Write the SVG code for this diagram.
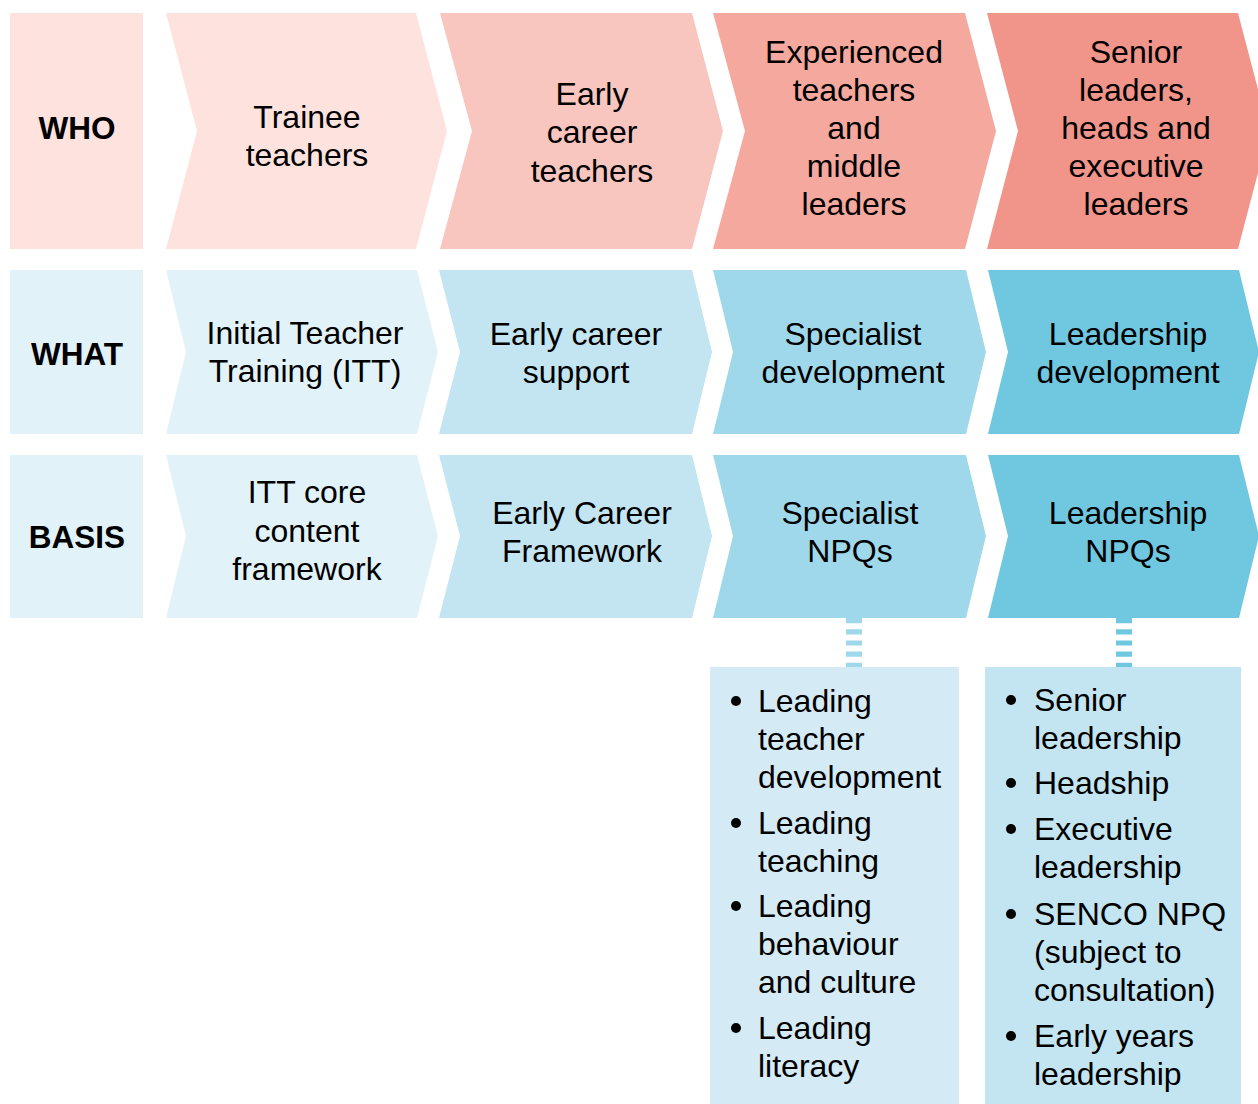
<svg xmlns="http://www.w3.org/2000/svg" width="1258" height="1104" viewBox="0 0 1258 1104">
<style>
text{font-family:"Liberation Sans",Arial,sans-serif;font-size:32px;fill:#000;}
.c{text-anchor:middle;}
.b{font-weight:bold;font-size:31.5px;}
.r1a{fill:#FDE2DE}.r1b{fill:#F8C5BF}.r1c{fill:#F5A89D}.r1d{fill:#F1948A}
.ba{fill:#E1F2F9}.bb{fill:#C3E5F1}.bc{fill:#9FD8EA}.bd{fill:#6FC8E0}
.dash{fill:none;stroke-width:16;stroke-dasharray:5.2 6}
</style>
<rect width="1258" height="1104" fill="#fff"/>

<g id="who-label"><rect class="r1a" x="10" y="13" width="133" height="236"/><text class="c b" x="77" y="139">WHO</text></g>
<g id="who-trainee"><polygon class="r1a" points="166,13 416,13 447,131 416,249 166,249 197,131"/>
<text class="c" x="307" y="128">Trainee</text><text class="c" x="307" y="166">teachers</text></g>
<g id="who-early"><polygon class="r1b" points="440,13 692,13 723,131 692,249 440,249 472,131"/>
<text class="c" x="592" y="105">Early</text><text class="c" x="592" y="143">career</text><text class="c" x="592" y="182">teachers</text></g>
<g id="who-experienced"><polygon class="r1c" points="713,13 965,13 996,131 965,249 713,249 745,131"/>
<text class="c" x="854" y="63">Experienced</text><text class="c" x="854" y="101">teachers</text><text class="c" x="854" y="139">and</text><text class="c" x="854" y="177">middle</text><text class="c" x="854" y="215">leaders</text></g>
<g id="who-senior"><polygon class="r1d" points="987,13 1238,13 1269,131 1238,249 987,249 1018,131"/>
<text class="c" x="1136" y="63">Senior</text><text class="c" x="1136" y="101">leaders,</text><text class="c" x="1136" y="139">heads and</text><text class="c" x="1136" y="177">executive</text><text class="c" x="1136" y="215">leaders</text></g>

<g id="what-label"><rect class="ba" x="10" y="270" width="133" height="164"/><text class="c b" x="77" y="365">WHAT</text></g>
<g id="what-itt"><polygon class="ba" points="166,270 417,270 438,352 417,434 166,434 186,352"/>
<text class="c" x="305" y="344">Initial Teacher</text><text class="c" x="305" y="382">Training (ITT)</text></g>
<g id="what-early"><polygon class="bb" points="439,270 692,270 712,352 692,434 439,434 460,352"/>
<text class="c" x="576" y="345">Early career</text><text class="c" x="576" y="383">support</text></g>
<g id="what-specialist"><polygon class="bc" points="713,270 966,270 986,352 966,434 713,434 733,352"/>
<text class="c" x="853" y="345">Specialist</text><text class="c" x="853" y="383">development</text></g>
<g id="what-leadership"><polygon class="bd" points="988,270 1239,270 1259,352 1239,434 988,434 1008,352"/>
<text class="c" x="1128" y="345">Leadership</text><text class="c" x="1128" y="383">development</text></g>

<g id="basis-label"><rect class="ba" x="10" y="455" width="133" height="163"/><text class="c b" x="77" y="548">BASIS</text></g>
<g id="basis-itt"><polygon class="ba" points="166,455 417,455 438,536 417,618 166,618 186,536"/>
<text class="c" x="307" y="503">ITT core</text><text class="c" x="307" y="542">content</text><text class="c" x="307" y="580">framework</text></g>
<g id="basis-ecf"><polygon class="bb" points="439,455 692,455 712,536 692,618 439,618 460,536"/>
<text class="c" x="582" y="524">Early Career</text><text class="c" x="582" y="562">Framework</text></g>
<g id="basis-specialist"><polygon class="bc" points="713,455 966,455 986,536 966,618 713,618 733,536"/>
<text class="c" x="850" y="524">Specialist</text><text class="c" x="850" y="562">NPQs</text></g>
<g id="basis-leadership"><polygon class="bd" points="988,455 1239,455 1259,536 1239,618 988,618 1008,536"/>
<text class="c" x="1128" y="524">Leadership</text><text class="c" x="1128" y="562">NPQs</text></g>

<g id="connectors">
<line class="dash" x1="854" y1="618" x2="854" y2="668" stroke="#9FD8EA"/>
<line class="dash" x1="1124" y1="618" x2="1124" y2="668" stroke="#6FC8E0"/>
</g>

<g id="specialist-list">
<rect x="710" y="667" width="249" height="437" fill="#D4EBF5"/>
<circle cx="736" cy="701" r="5"/><circle cx="736" cy="823" r="5"/><circle cx="736" cy="906" r="5"/><circle cx="736" cy="1028" r="5"/>
<text x="758" y="712">Leading</text><text x="758" y="750">teacher</text><text x="758" y="788">development</text>
<text x="758" y="834">Leading</text><text x="758" y="872">teaching</text>
<text x="758" y="917">Leading</text><text x="758" y="955">behaviour</text><text x="758" y="993">and culture</text>
<text x="758" y="1039">Leading</text><text x="758" y="1077">literacy</text>
</g>

<g id="leadership-list">
<rect x="985" y="667" width="256" height="437" fill="#C3E5F1"/>
<circle cx="1011" cy="700" r="5"/><circle cx="1011" cy="783" r="5"/><circle cx="1011" cy="829" r="5"/><circle cx="1011" cy="914" r="5"/><circle cx="1011" cy="1036" r="5"/>
<text x="1034" y="711">Senior</text><text x="1034" y="749">leadership</text>
<text x="1034" y="794">Headship</text>
<text x="1034" y="840">Executive</text><text x="1034" y="878">leadership</text>
<text x="1034" y="925">SENCO NPQ</text><text x="1034" y="963">(subject to</text><text x="1034" y="1001">consultation)</text>
<text x="1034" y="1047">Early years</text><text x="1034" y="1085">leadership</text>
</g>
</svg>
